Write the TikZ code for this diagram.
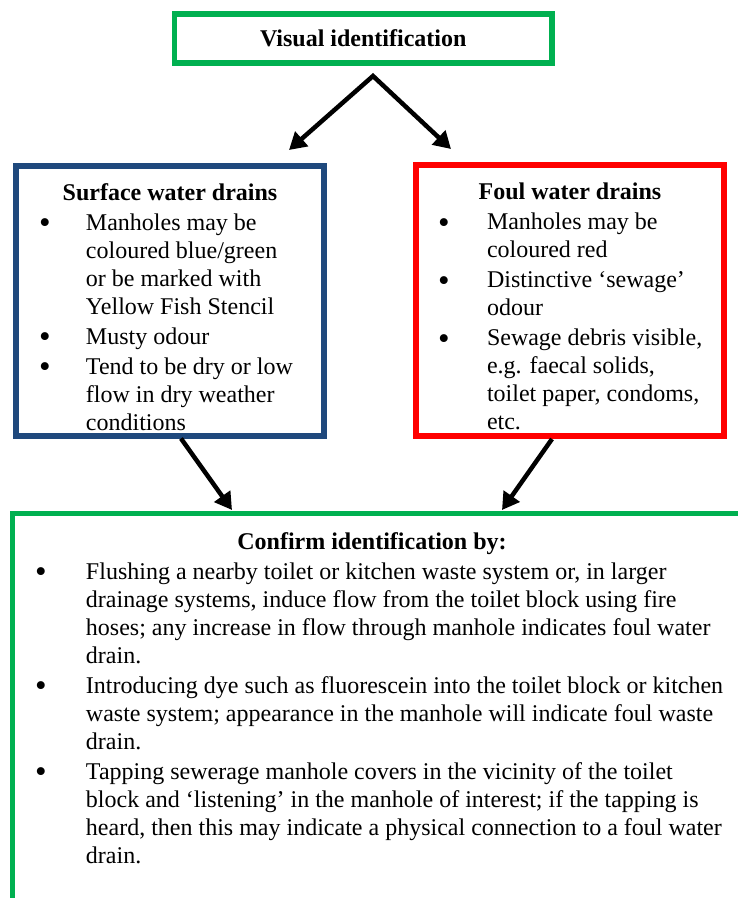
\documentclass[tikz,border=0pt]{standalone}
\usepackage{fontspec}
\setmainfont{Liberation Serif}
\usetikzlibrary{arrows.meta}
\usetikzlibrary{calc}

\definecolor{boxgreen}{RGB}{0,176,80}
\definecolor{boxblue}{RGB}{31,73,125}
\definecolor{boxred}{RGB}{255,0,0}

\newlength{\textind}
\newlength{\bulletind}
\newcommand{\bigdot}{\raisebox{-3.5pt}{\fontsize{33}{28}\selectfont\textbullet}}
\newcommand{\bitem}[1]{\par\vspace{2pt}\hangindent=\textind\hangafter=1\noindent
	\makebox[\textind][l]{\hspace*{\bulletind}\bigdot}#1\par}

\begin{document}
\begin{tikzpicture}
		[x=1pt,y=-1pt,every node/.style={inner sep=0pt,font=\fontsize{24}{28}\selectfont},
		box/.style={draw,rectangle,line width=5.5pt},
		arrow/.style={line width=4.5pt,-{Triangle[length=17pt,width=19pt]}}]
		\useasboundingbox (0,0) rectangle (738,898);
		\clip (0,0) rectangle (738,898);
		
		\node[box,draw=boxgreen,minimum width=377.5pt,minimum height=49pt] (visual) at (363.25,38.5)
		{\raisebox{-2pt}{\bfseries Visual identification}};
		
		\node[box,draw=boxblue,line width=6pt,minimum width=308pt,minimum height=270pt] (surface) at (170,300.5)
		{\begin{minipage}[t][234pt][t]{290pt}
			\setlength{\textind}{61pt}\setlength{\bulletind}{14pt}\raggedright
			{\centering\bfseries Surface water drains\par}
			\bitem{Manholes may be\newline coloured blue/green\newline or be marked with\newline Yellow Fish Stencil}
			\bitem{Musty odour}
			\bitem{Tend to be dry or low\newline flow in dry weather\newline conditions}
		\end{minipage}};
		
		\node[box,draw=boxred,line width=6pt,minimum width=308pt,minimum height=271pt] (foul) at (570,300.5)
		{\begin{minipage}[t][235pt][t]{290pt}
			\setlength{\textind}{62pt}\setlength{\bulletind}{13pt}\raggedright
			{\centering\bfseries Foul water drains\par}
			\bitem{Manholes may be\newline coloured red}
			\bitem{Distinctive ‘sewage’\newline odour}
			\bitem{Sewage debris visible,\newline e.g. faecal solids,\newline toilet paper, condoms,\newline etc.}
		\end{minipage}};
		
		\node[box,draw=boxgreen,line width=5pt,minimum width=760pt,minimum height=420pt] (confirm) at (392.5,723)
		{\begin{minipage}[t][381pt][t]{720pt}
			\setlength{\textind}{53.5pt}\setlength{\bulletind}{2.5pt}\raggedright
			\noindent\makebox[679pt][c]{\bfseries Confirm identification by:}\par
			\bitem{Flushing a nearby toilet or kitchen waste system or, in larger\newline drainage systems, induce flow from the toilet block using fire\newline hoses; any increase in flow through manhole indicates foul water\newline drain.}
			\bitem{Introducing dye such as fluorescein into the toilet block or kitchen\newline waste system; appearance in the manhole will indicate foul waste\newline drain.}
			\bitem{Tapping sewerage manhole covers in the vicinity of the toilet\newline block and ‘listening’ in the manhole of interest; if the tapping is\newline heard, then this may indicate a physical connection to a foul water\newline drain.}
		\end{minipage}};
		
		% arrows
		\coordinate (split) at (373,76);
		\coordinate (lefttop) at (289,150);
		\coordinate (righttop) at (451,149);
		\coordinate (leftlow) at (232,510);
		\coordinate (rightlow) at (502,510);
		\draw[line width=4.5pt,{Triangle[length=17pt,width=19pt]}-{Triangle[length=17pt,width=19pt]}]
		(lefttop) -- (split) -- (righttop);
		\draw[arrow] ($(surface.south)+(11,0)$) -- (leftlow);
		\draw[arrow] ($(foul.south)+(-18,0)$) -- (rightlow);
\end{tikzpicture}
\end{document}
